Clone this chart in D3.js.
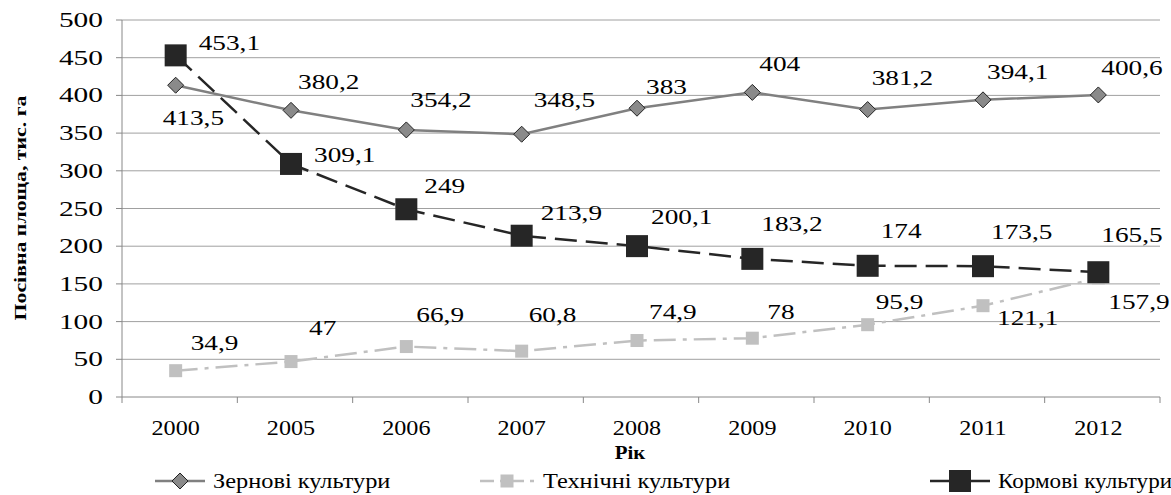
<!DOCTYPE html><html><head><meta charset="utf-8"><script src="https://cdn.jsdelivr.net/npm/d3@7"></script>
<style>body{margin:0;background:#fff}text{font-family:"Liberation Serif","Times New Roman",serif}</style></head><body>
<svg id="c" width="1171" height="495"></svg>
<script>
const years=["2000","2005","2006","2007","2008","2009","2010","2011","2012"];
const grain=[413.5,380.2,354.2,348.5,383,404,381.2,394.1,400.6];
const tech=[34.9,47,66.9,60.8,74.9,78,95.9,121.1,157.9];
const feed=[453.1,309.1,249,213.9,200.1,183.2,174,173.5,165.5];
const yTicks=[0,50,100,150,200,250,300,350,400,450,500];
const names=["Зернові культури","Технічні культури","Кормові культури"];
const svg=d3.select("#c");
const x=d3.scaleBand().domain(years).range([122,1160]);
const y=d3.scaleLinear().domain([0,500]).range([397,20]);
const cx=d=>x(d)+x.bandwidth()/2-4;
const fmt=v=>String(v).replace(".",",");
const FS=21;
const txt=(px,py,s,sx,anchor,fs)=>svg.append("text").attr("transform",`translate(${px},${py}) scale(${sx},1)`).attr("text-anchor",anchor||"start").attr("font-size",fs||FS).text(s);
yTicks.forEach(t=>{if(t>0)svg.append("line").attr("x1",122).attr("x2",1160).attr("y1",y(t)).attr("y2",y(t)).attr("stroke","#a0a0a0");});
svg.append("line").attr("x1",122).attr("x2",122).attr("y1",20).attr("y2",397).attr("stroke","#888");
svg.append("line").attr("x1",122).attr("x2",1160).attr("y1",397).attr("y2",397).attr("stroke","#888");
yTicks.forEach(t=>{svg.append("line").attr("x1",116).attr("x2",122).attr("y1",y(t)).attr("y2",y(t)).attr("stroke","#888");
 txt(103,y(t)+7,t,1.4,"end");});
years.forEach(yr=>{svg.append("line").attr("x1",x(yr)).attr("x2",x(yr)).attr("y1",397).attr("y2",403).attr("stroke","#888");
 txt(cx(yr),435,yr,1.15,"middle");});
svg.append("line").attr("x1",1160).attr("x2",1160).attr("y1",397).attr("y2",403).attr("stroke","#888");
txt(630,459,"Рік",1.1,"middle",19).attr("font-weight","bold");
svg.append("text").attr("transform","translate(26,208) rotate(-90)").attr("text-anchor","middle").attr("font-size",17).attr("font-weight","bold").attr("textLength",225).attr("lengthAdjust","spacingAndGlyphs").text("Посівна площа, тис. га");
const line=d3.line().x((d,i)=>cx(years[i])).y(d=>y(d));
svg.append("path").attr("d",line(tech)).attr("fill","none").attr("stroke","#c0c0c0").attr("stroke-width",2.5).attr("stroke-dasharray","22,7,4,7");
svg.append("path").attr("d",line(grain)).attr("fill","none").attr("stroke","#808080").attr("stroke-width",2.5);
svg.append("path").attr("d",line(feed)).attr("fill","none").attr("stroke","#262626").attr("stroke-width",2.5).attr("stroke-dasharray","22,9");
const diamond=(px,py,s)=>svg.append("path").attr("d",`M${px},${py-s}L${px+s},${py}L${px},${py+s}L${px-s},${py}Z`).attr("fill","#8a8a8a").attr("stroke","#222").attr("stroke-width",1);
const sq=(px,py,s,f)=>svg.append("rect").attr("x",px-s/2).attr("y",py-s/2).attr("width",s).attr("height",s).attr("fill",f);
grain.forEach((v,i)=>diamond(cx(years[i]),y(v),8));
tech.forEach((v,i)=>sq(cx(years[i]),y(v),13,"#c0c0c0"));
feed.forEach((v,i)=>sq(cx(years[i]),y(v),22,"#262626"));
// label placement offsets (style): [dx, dy of label centre]
const gOff=[[-13,33],[7,-28],[4,-30],[12,-34],[9,-21],[7,-28],[4,-32],[4,-28],[3,-27]];
const fOff=[[23,-12],[23,-9],[18,-23],[19,-23],[14,-29],[9,-35],[13,-35],[8,-34],[3,-37]];
const tOff=[[15,-28],[18,-34],[10,-32],[7,-36],[12,-29],[15,-26],[8,-23],[14,12],[10,24]];
const lab=(arr,off)=>arr.forEach((v,i)=>txt(cx(years[i])+off[i][0],y(v)+off[i][1]+7,fmt(v),1.3));
lab(grain,gOff);lab(feed,fOff);lab(tech,tOff);
const ly=481;
svg.append("line").attr("x1",155).attr("x2",205).attr("y1",ly).attr("y2",ly).attr("stroke","#808080").attr("stroke-width",2.5);
diamond(180,ly,8);
txt(213,ly+7,names[0],1.16);
svg.append("line").attr("x1",480).attr("x2",535).attr("y1",ly).attr("y2",ly).attr("stroke","#c0c0c0").attr("stroke-width",2.5).attr("stroke-dasharray","14,6,4,6");
sq(507,ly,13,"#c0c0c0");
txt(543,ly+7,names[1],1.16);
svg.append("line").attr("x1",930).attr("x2",990).attr("y1",ly).attr("y2",ly).attr("stroke","#262626").attr("stroke-width",2.5);
sq(960,ly,22,"#262626");
txt(998,ly+7,names[2],1.1);
</script></body></html>
